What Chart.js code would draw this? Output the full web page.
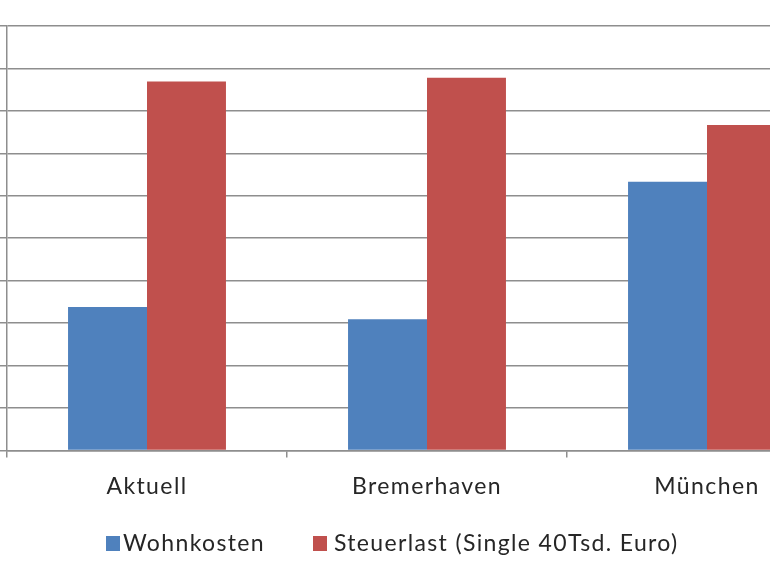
<!DOCTYPE html>
<html>
<head>
<meta charset="utf-8">
<script src="https://cdn.jsdelivr.net/npm/chart.js@4/dist/chart.umd.min.js"></script>
<style>
  html, body { margin: 0; padding: 0; background: #ffffff; overflow: hidden; width: 770px; height: 562px; }
  #wrap { position: absolute; left: 0; top: 0; width: 860px; height: 562px; }
  #legend { position: absolute; left: 0; top: 0; width: 770px; height: 562px; pointer-events: none;
            font-family: Lato, sans-serif; font-size: 23px; color: #262626; letter-spacing: 1.35px; }
  .sw { position: absolute; width: 14px; height: 15px; }
  .lt { position: absolute; white-space: nowrap; line-height: 1; }
</style>
</head>
<body>
<div id="wrap"><canvas id="c" width="860" height="562"></canvas></div>
<div id="legend"></div>
<script>
const categories = ['Aktuell', 'Bremerhaven', 'München'];
const seriesNames = ['Wohnkosten', 'Steuerlast (Single 40Tsd. Euro)'];
const wohnkosten = [3380, 3090, 6330];
const steuerlast = [8690, 8780, 7670];
const colors = ['#4F81BD', '#C0504D'];
const gridColor = '#8e8e8e';

const spacingPlugin = {
  id: 'spacing',
  beforeDraw(chart) { chart.ctx.letterSpacing = '1.4px'; }
};

const chart = new Chart(document.getElementById('c'), {
  type: 'bar',
  data: {
    labels: categories,
    datasets: [
      { label: seriesNames[0], data: wohnkosten, backgroundColor: colors[0] },
      { label: seriesNames[1], data: steuerlast, backgroundColor: colors[1] }
    ]
  },
  plugins: [spacingPlugin],
  options: {
    responsive: false,
    animation: false,
    events: [],
    layout: { padding: { top: 26, right: 13, bottom: 47, left: 0 } },
    plugins: { legend: { display: false }, tooltip: { enabled: false } },
    datasets: { bar: { categoryPercentage: 0.564, barPercentage: 1.0 } },
    scales: {
      x: {
        grid: { drawOnChartArea: false, drawTicks: true, tickLength: 7, color: gridColor, lineWidth: 1.5, offset: true },
        border: { display: true, color: gridColor, width: 1.5 },
        ticks: { color: '#262626', padding: 15, font: { family: 'Lato', size: 23 } }
      },
      y: {
        min: 0, max: 10000,
        ticks: { display: false, stepSize: 1000 },
        grid: { color: gridColor, lineWidth: 1.5, drawTicks: true, tickLength: 7 },
        border: { display: true, color: gridColor, width: 1.5 }
      }
    }
  }
});

// HTML legend
const legend = document.getElementById('legend');
const legendPos = [ { sw: 106, tx: 123 }, { sw: 313, tx: 334 } ];
seriesNames.forEach((name, i) => {
  const sw = document.createElement('div');
  sw.className = 'sw';
  sw.style.left = legendPos[i].sw + 'px';
  sw.style.top = '536px';
  sw.style.background = colors[i];
  legend.appendChild(sw);
  const t = document.createElement('div');
  t.className = 'lt';
  t.style.left = legendPos[i].tx + 'px';
  t.style.top = '531px';
  t.textContent = name;
  legend.appendChild(t);
});
</script>
</body>
</html>
